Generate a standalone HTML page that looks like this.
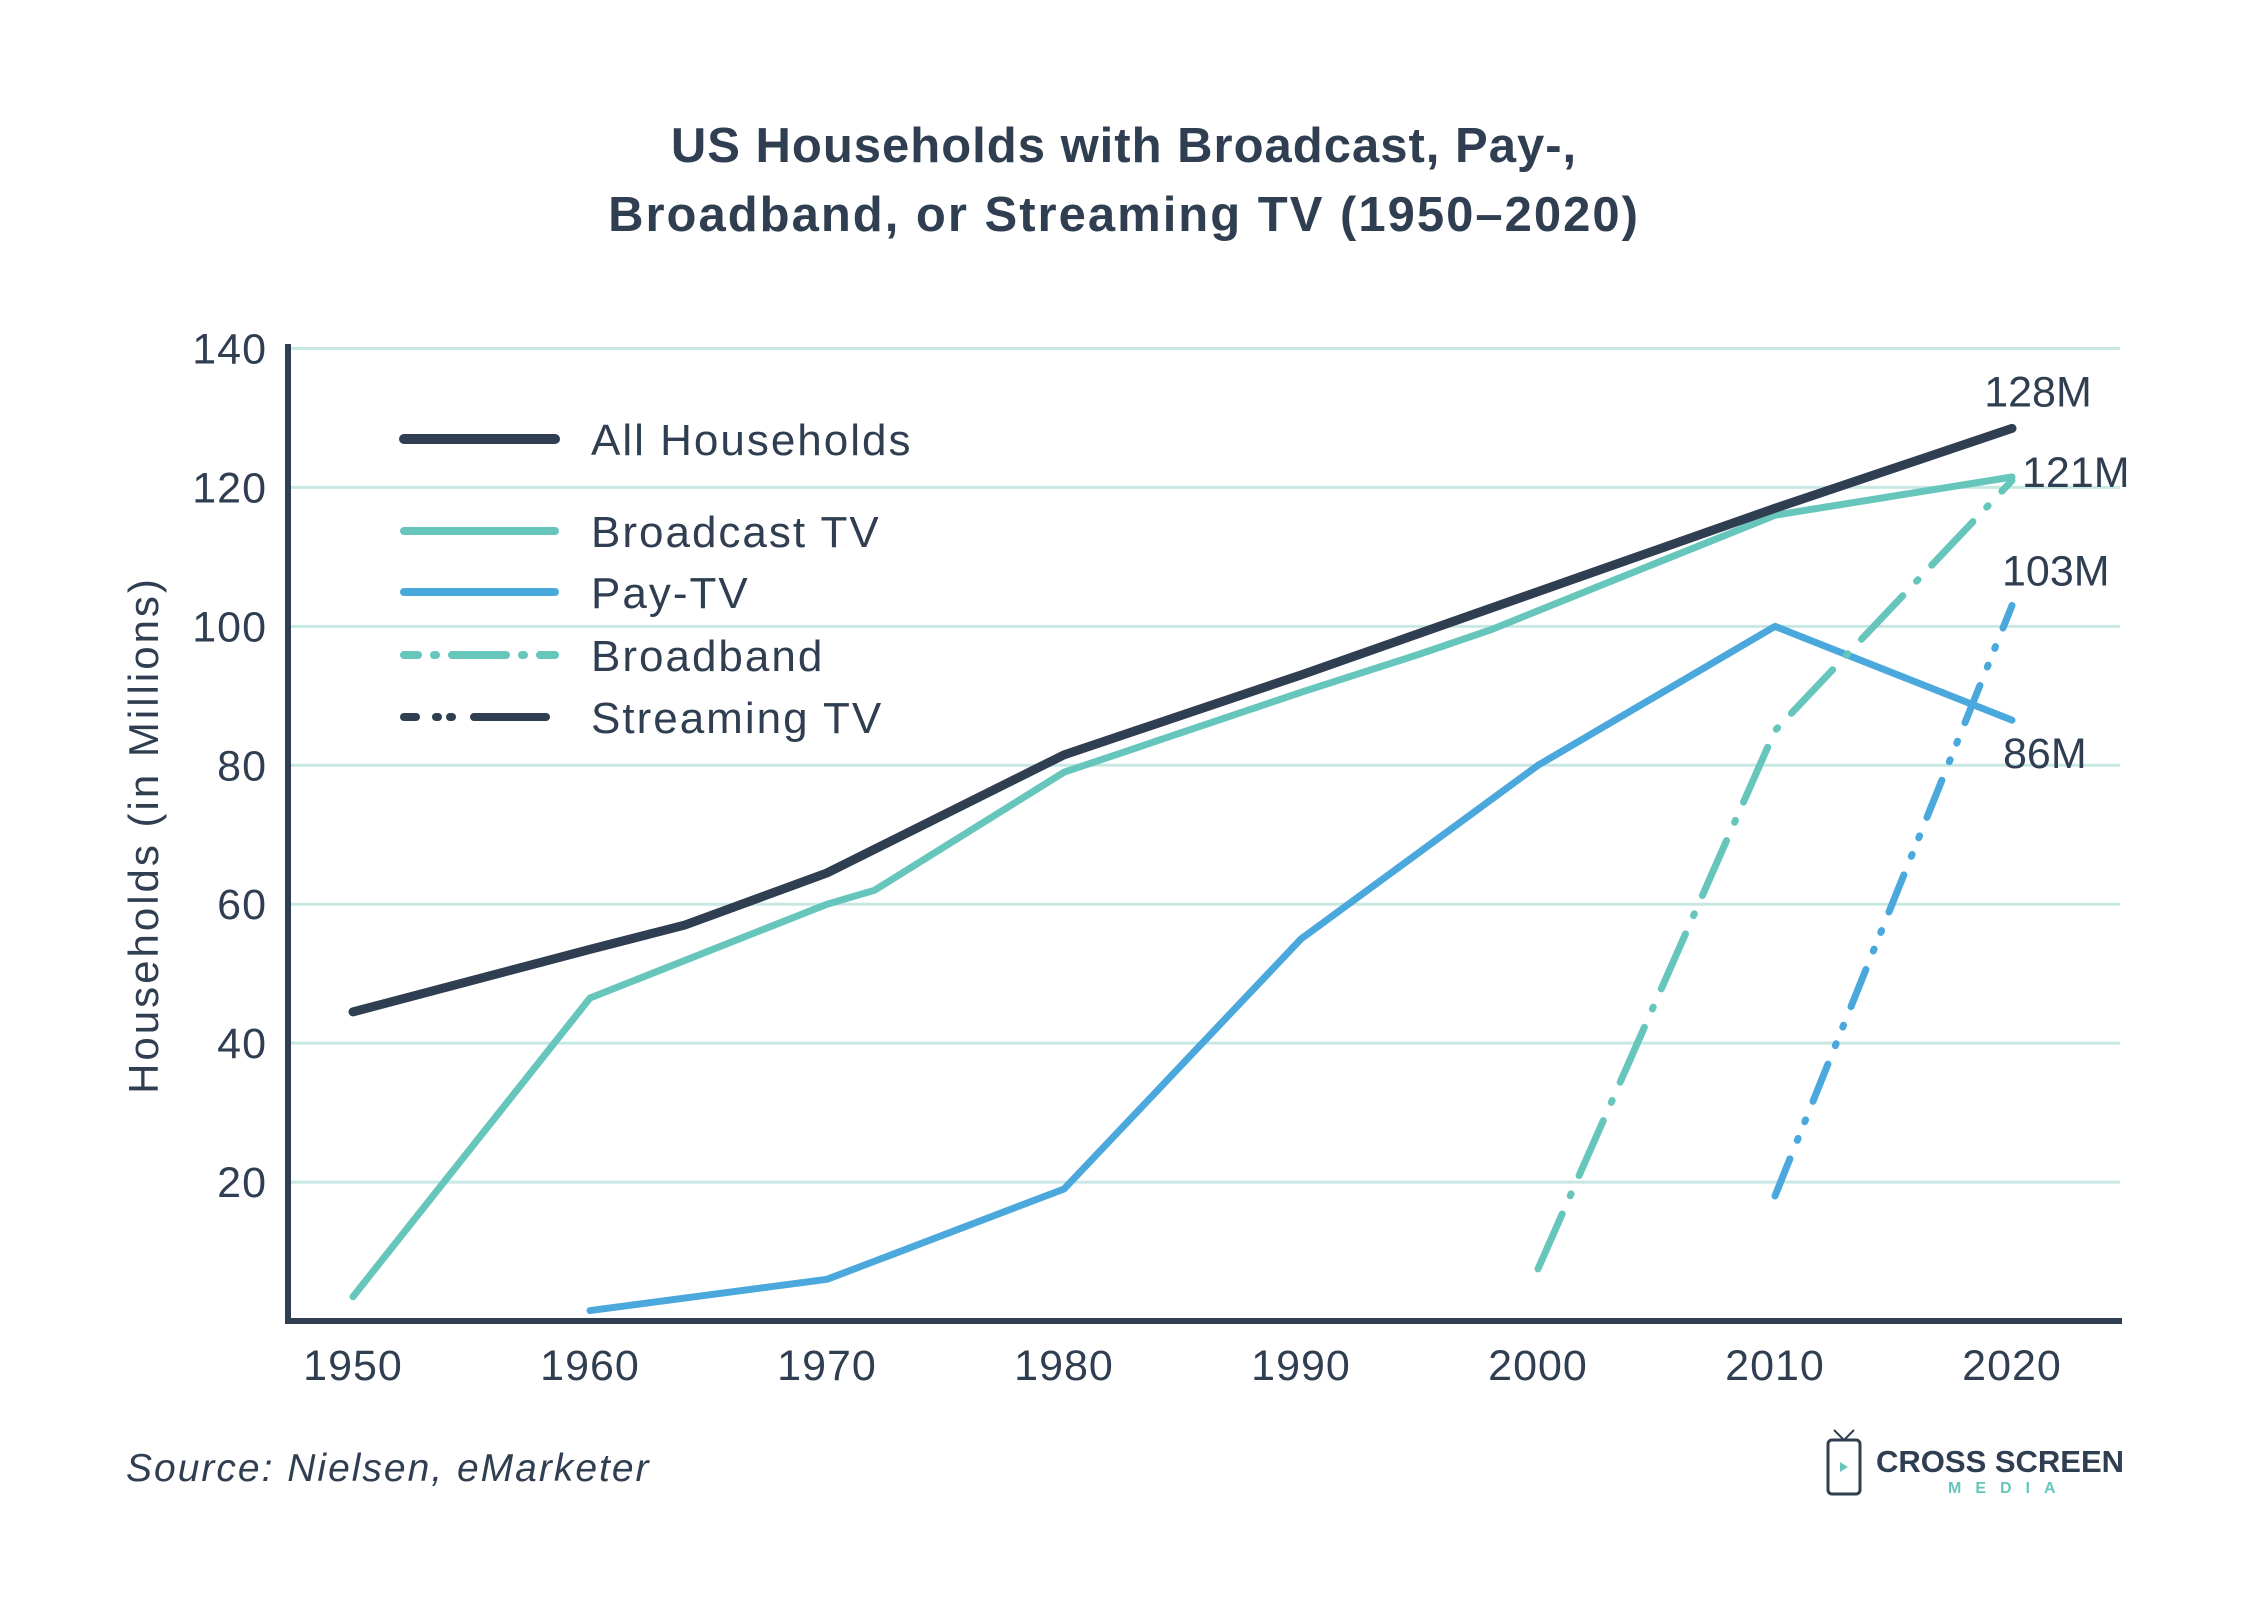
<!DOCTYPE html>
<html><head><meta charset="utf-8"><style>
html,body{margin:0;padding:0;background:#fff;}
svg{display:block;font-family:"Liberation Sans",sans-serif;}
</style></head><body>
<svg id="chart" width="2249" height="1621" viewBox="0 0 2249 1621" xmlns="http://www.w3.org/2000/svg">
<rect width="2249" height="1621" fill="#fff"/>
<text x="1124" y="162" text-anchor="middle" font-size="49" font-weight="bold" letter-spacing="1" fill="#2f3e50">US Households with Broadcast, Pay-,</text>
<text x="1124" y="231" text-anchor="middle" font-size="49" font-weight="bold" letter-spacing="2" fill="#2f3e50">Broadband, or Streaming TV (1950–2020)</text>
<g id="grid"></g>
<g id="series"></g>
<g id="axes"></g>
<text transform="translate(158,835) rotate(-90)" text-anchor="middle" font-size="42" letter-spacing="3" fill="#2f3e50">Households (in Millions)</text>
<g>
<line x1="404" y1="439" x2="555" y2="439" stroke="#2f3e50" stroke-width="10" stroke-linecap="round"/>
<text x="591" y="455" font-size="44" letter-spacing="2" fill="#2f3e50">All Households</text>
<line x1="404" y1="531" x2="555" y2="531" stroke="#66c6bc" stroke-width="8" stroke-linecap="round"/>
<text x="591" y="547" font-size="44" letter-spacing="2" fill="#2f3e50">Broadcast TV</text>
<line x1="404" y1="592" x2="555" y2="592" stroke="#4aa8dc" stroke-width="8" stroke-linecap="round"/>
<text x="591" y="608" font-size="44" letter-spacing="2" fill="#2f3e50">Pay-TV</text>
<line x1="404" y1="655" x2="555" y2="655" stroke="#66c6bc" stroke-width="8" stroke-linecap="round" stroke-dasharray="14 16 2 16 40 0"/>
<text x="591" y="671" font-size="44" letter-spacing="2" fill="#2f3e50">Broadband</text>
<line x1="404" y1="717" x2="555" y2="717" stroke="#2f3e50" stroke-width="8" stroke-linecap="round" stroke-dasharray="12 20 2 12 2 22 60 0"/>
<text x="591" y="733" font-size="44" letter-spacing="2" fill="#2f3e50">Streaming TV</text>
</g>
<text x="126" y="1481" font-size="39" font-style="italic" letter-spacing="2" fill="#2f3e50">Source: Nielsen, eMarketer</text>
<g>
<rect x="1828" y="1440" width="32" height="54" rx="4" fill="none" stroke="#2f3e50" stroke-width="3"/>
<path d="M1834 1430 L1844 1440 L1854 1430" fill="none" stroke="#2f3e50" stroke-width="2"/>
<path d="M1840 1462 L1848 1467 L1840 1472 Z" fill="#66c6bc"/>
<text x="1876" y="1472" font-size="31" font-weight="bold" fill="#2f3e50">CROSS SCREEN</text>
<text x="1948" y="1493" font-size="16" font-weight="bold" fill="#66c6bc" letter-spacing="14">MEDIA</text>
</g>
</svg>
<script>
const yTicks = [20, 40, 60, 80, 100, 120, 140];
const xTicks = [1950, 1960, 1970, 1980, 1990, 2000, 2010, 2020];
const allYears = [1950, 1960, 1964, 1968, 1970, 1980, 1990, 2000, 2010, 2020];
const allValues = [44.5, 53.5, 57, 62, 64.5, 81.5, 93, 105, 117, 128.5];
const broadcastYears = [1950, 1960, 1970, 1972, 1980, 1990, 1995, 1998, 2010, 2020];
const broadcastValues = [3.5, 46.5, 60, 62, 79, 90.5, 96, 99.5, 116, 121.5];
const payYears = [1960, 1970, 1980, 1990, 2000, 2010, 2020];
const payValues = [1.5, 6, 19, 55, 80, 100, 86.5];
const broadbandYears = [2000, 2010, 2020];
const broadbandValues = [7.5, 85, 121];
const streamingYears = [2010, 2020];
const streamingValues = [18, 103];
const endLabels = ["128M", "121M", "103M", "86M"];

const NS = "http://www.w3.org/2000/svg";
function xs(yr){ return 353 + (yr - 1950) * (2012 - 353) / 70; }
function ys(v){ return 1321 - v * (1321 - 348.5) / 140; }
function mk(tag, attrs, parent){ const e=document.createElementNS(NS,tag); for(const k in attrs) e.setAttribute(k,attrs[k]); parent.appendChild(e); return e; }
const grid=document.getElementById('grid'), series=document.getElementById('series'), axes=document.getElementById('axes');
yTicks.forEach(t=>{
  const l=mk('line',{x1:288,x2:2120,y1:ys(t),y2:ys(t),stroke:'#c8e8e4','stroke-width':3},grid);
  
  
  const tx=mk('text',{x:267,y:ys(t)+15,'text-anchor':'end','font-size':43,'letter-spacing':1,fill:'#2f3e50'},axes);
  tx.textContent=t;
  
  
});
xTicks.forEach(t=>{
  const tx=mk('text',{x:xs(t),y:1380,'text-anchor':'middle','font-size':43,'letter-spacing':1,fill:'#2f3e50'},axes);
  tx.textContent=t;
  
  
});
const ya=mk('line',{x1:288,x2:288,y1:344,y2:1323,stroke:'#2f3e50','stroke-width':6},axes);


const xa=mk('line',{x1:285,x2:2122,y1:1321,y2:1321,stroke:'#2f3e50','stroke-width':6},axes);


function line(years, vals, color, w, dash, name){
  const pts=years.map((y,i)=>xs(y)+','+ys(vals[i])).join(' ');
  const p=mk('polyline',{points:pts,fill:'none',stroke:color,'stroke-width':w,'stroke-linecap':'round','stroke-linejoin':'round'},series);
  if(dash) p.setAttribute('stroke-dasharray',dash);
  
  
}
line(payYears,payValues,'#4aa8dc',7,null,'line-pay-tv');
line(broadcastYears,broadcastValues,'#66c6bc',7,null,'line-broadcast-tv');
line(allYears,allValues,'#2f3e50',9,null,'line-all-households');
line(broadbandYears,broadbandValues,'#66c6bc',7,'60 20 2 20','line-broadband');
line(streamingYears,streamingValues,'#4aa8dc',7,'40 20 2 18 2 20','line-streaming-tv');
const lbl=[[allValues[allValues.length-1],1980,-22,'end'],[broadcastValues[broadcastValues.length-1],2022,10,'start'],[streamingValues[streamingValues.length-1],2002,-20,'start'],[payValues[payValues.length-1],2003,48,'start']];
lbl.forEach((d,i)=>{
  const tx=mk('text',{x:d[1],y:ys(d[0])+d[2],'text-anchor':'start','font-size':43,fill:'#2f3e50'},series);
  if(i===0){tx.setAttribute('x',2038);tx.setAttribute('text-anchor','middle');}
  tx.textContent=endLabels[i];
  
  
});
</script>
</body></html>
